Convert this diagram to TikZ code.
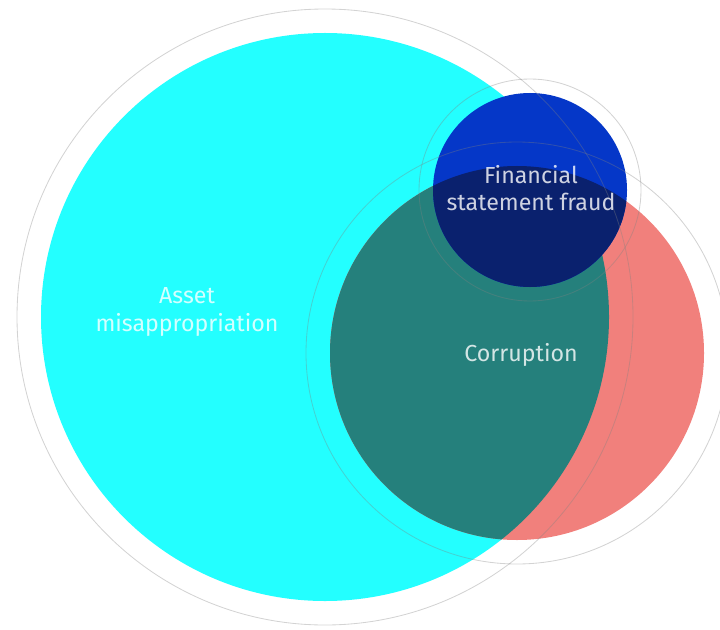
\documentclass[tikz,border=0pt]{standalone}
\usepackage{fontspec}
\setmainfont{Fira Sans}

\definecolor{assetcyan}{RGB}{35,255,255}
\definecolor{corrred}{RGB}{241,128,124}
\definecolor{overlapteal}{RGB}{37,128,124}
\definecolor{fraudblue}{RGB}{5,55,200}
\definecolor{overlapnavy}{RGB}{10,33,110}

\tikzset{
    ring/.style={draw=gray, draw opacity=0.35, line width=0.6pt},
    circtext/.style={text=white, text opacity=0.8, align=center,
        font=\fontsize{16.5}{19.5}\selectfont}
}

\begin{document}
\begin{tikzpicture}[x=0.025cm, y=-0.025cm]
    \useasboundingbox (0,0) rectangle (720,629);

    % Centres
    \coordinate (asset) at (325,317);
    \coordinate (corr) at (517,353);
    \coordinate (fraud) at (530,190);

    % Main circles
    \fill[assetcyan] (asset) circle (284);
    \fill[corrred] (corr) circle (187);

    % Asset / corruption overlap
    \begin{scope}
        \clip (asset) circle (284);
        \fill[overlapteal] (corr) circle (187);
    \end{scope}

    % Financial statement fraud
    \fill[fraudblue] (fraud) circle (97);
    \begin{scope}
        \clip (corr) circle (187);
        \fill[overlapnavy] (fraud) circle (97);
    \end{scope}

    % Thin outer rings
    \foreach \c/\r in {asset/308, corr/211, fraud/111} {
        \draw[ring] (\c) circle (\r);
    }

    % Labels
    \node[circtext] (assettext) at (187,312) {Asset\\misappropriation};
    \node[circtext] (corrtext) at (521,355) {Corruption};
    \node[circtext] (fraudtext) at (531,188) {Financial\\statement fraud};
\end{tikzpicture}
\end{document}
